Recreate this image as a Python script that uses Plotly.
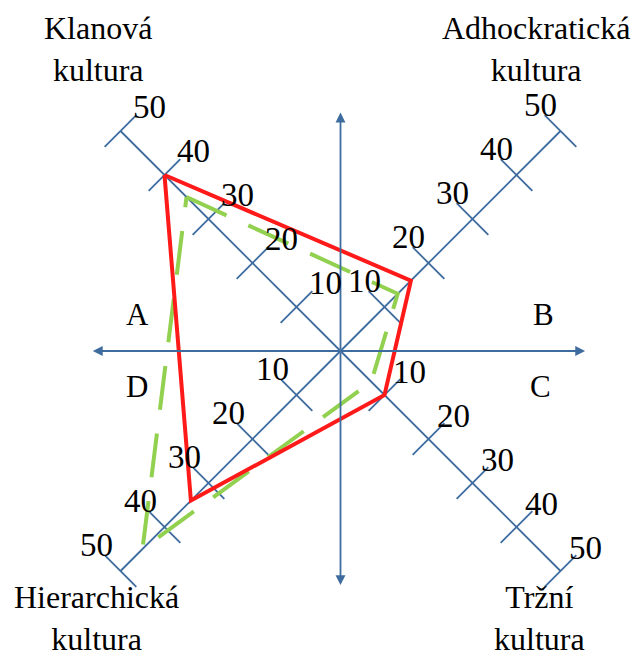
import plotly.graph_objects as go

# ---- data ----
categories = ["Klanová kultura", "Adhockratická kultura", "Tržní kultura", "Hierarchická kultura"]
quadrant_letters = ["A", "B", "C", "D"]
tick_values = [10, 20, 30, 40, 50]
series_red = [40, 16, 10, 34]      # solid red profile
series_green = [35, 13, 7, 45]     # dashed green profile

# direction of each diagonal axis (Klan = top-left, Adhoc = top-right, Market = bottom-right, Hierarchy = bottom-left)
directions = [(-1, 1), (1, 1), (1, -1), (-1, -1)]

AXIS_COLOR = "#3E6C9E"
FONT = "Liberation Serif"
PX = 4.4          # pixels per unit
OFF = 8           # page body margin
W, H = 639 - OFF, 657 - OFF
CX, CY = 340.5 - OFF, 351.0 - OFF

fig = go.Figure()

# diagonal axes with perpendicular tick marks
for (sx, sy) in directions:
    vmax = max(tick_values)
    fig.add_trace(go.Scatter(x=[0, sx * vmax], y=[0, sy * vmax], mode="lines",
                             line=dict(color=AXIS_COLOR, width=1.8), hoverinfo="skip", showlegend=False))
    tx, ty = [], []
    h = 3.6
    for v in tick_values:
        px_, py_ = sx * v, sy * v
        tx += [px_ - h * sy, px_ + h * sy, None]
        ty += [py_ + h * sx, py_ - h * sx, None]
    fig.add_trace(go.Scatter(x=tx, y=ty, mode="lines", line=dict(color=AXIS_COLOR, width=1.8),
                             hoverinfo="skip", showlegend=False))


def closed(vals):
    xs = [d[0] * v for d, v in zip(directions, vals)]
    ys = [d[1] * v for d, v in zip(directions, vals)]
    return xs + [xs[0]], ys + [ys[0]]


gx, gy = closed(series_green)
fig.add_trace(go.Scatter(x=gx, y=gy, mode="lines", line=dict(color="#92D050", width=4, dash="44px,24px"),
                         hoverinfo="skip", showlegend=False))
rx, ry = closed(series_red)
fig.add_trace(go.Scatter(x=rx, y=ry, mode="lines", line=dict(color="#FF1A1A", width=4),
                         hoverinfo="skip", showlegend=False))

annotations = []
# horizontal / vertical arrows
for (tx_, ty_) in [(-56.3, 0), (55.6, 0), (0, 54.2), (0, -53.2)]:
    annotations.append(dict(x=tx_, y=ty_, ax=0, ay=0, xref="x", yref="y", axref="x", ayref="y",
                            text="", showarrow=True, arrowhead=2, arrowsize=1.1, arrowwidth=1.8,
                            arrowcolor=AXIS_COLOR))

# tick labels
label_shift = [(29, 24), (-20, 26), (25, 23), (-24, 26)]
for (sx, sy), (xs, ys) in zip(directions, label_shift):
    for v in tick_values:
        annotations.append(dict(x=sx * v, y=sy * v, xref="x", yref="y", text=str(v), showarrow=False,
                                xanchor="center", yanchor="middle",
                                xshift=xs, yshift=ys, font=dict(family=FONT, size=33, color="black")))


def paper(px_, py_):
    return (px_ - OFF) / W, 1 - (py_ - OFF) / H


# quadrant letters
letter_pos = [(137.5, 314), (543, 314), (540, 386), (137, 386)]
for letter, (lx, ly) in zip(quadrant_letters, letter_pos):
    x_, y_ = paper(lx, ly)
    annotations.append(dict(x=x_, y=y_, xref="paper", yref="paper", text=letter,
                            xanchor="center", yanchor="middle",
                            showarrow=False, font=dict(family=FONT, size=31, color="black")))

# corner category labels
corner_pos = [(98, 49), (536, 49), (539, 618), (96, 618)]
for cat, (lx, ly) in zip(categories, corner_pos):
    a, b = cat.split(" ")
    x_, y_ = paper(lx, ly)
    annotations.append(dict(x=x_, y=y_, xref="paper", yref="paper", text=a + "<br>" + b,
                            xanchor="center", yanchor="middle",
                            showarrow=False, font=dict(family=FONT, size=32, color="black")))

fig.update_layout(
    width=W, height=H, margin=dict(l=0, r=0, t=0, b=0),
    paper_bgcolor="white", plot_bgcolor="white",
    xaxis=dict(range=[-CX / PX, (W - CX) / PX], visible=False, fixedrange=True),
    yaxis=dict(range=[-(H - CY) / PX, CY / PX], visible=False, fixedrange=True),
    annotations=annotations, showlegend=False,
)

fig.write_html("out.html")
